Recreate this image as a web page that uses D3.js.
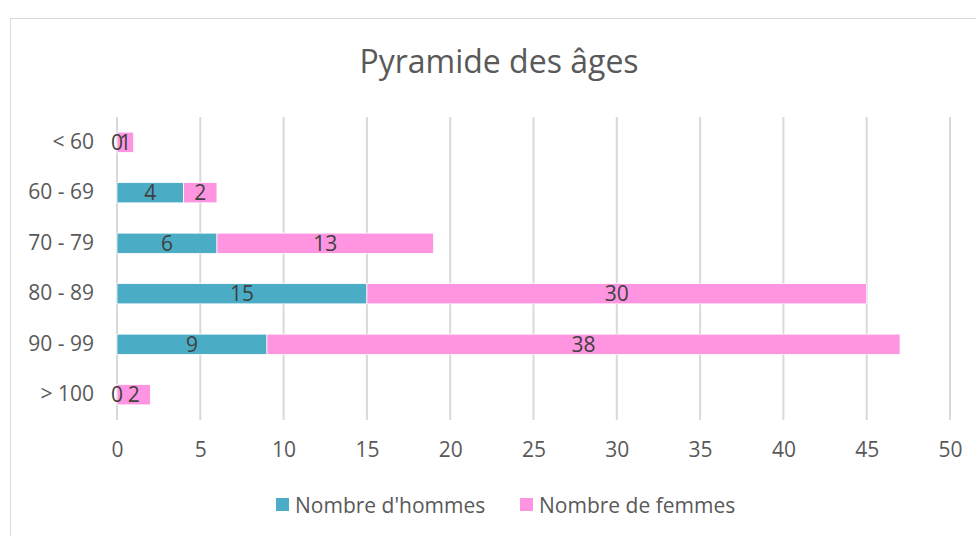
<!DOCTYPE html>
<html>
<head>
<meta charset="utf-8">
<script src="https://cdn.jsdelivr.net/npm/d3@7"></script>
<style>
  body { margin: 0; background: #fff; }
  svg { display: block; font-family: "Open Sans", sans-serif; }
</style>
</head>
<body>
<div id="chart"></div>
<script>
// data
const categories = ["< 60", "60 - 69", "70 - 79", "80 - 89", "90 - 99", "> 100"];
const hommes = [0, 4, 6, 15, 9, 0];
const femmes = [1, 2, 13, 30, 38, 2];
const seriesNames = ["Nombre d'hommes", "Nombre de femmes"];
const xTicks = [0, 5, 10, 15, 20, 25, 30, 35, 40, 45, 50];

const width = 976;
const height = 536;
const margin = { top: 117, right: 26, bottom: 116, left: 117 };
const colors = ["#4BACC6", "#FF95E0"];
const font = "'Open Sans', sans-serif";

const svg = d3.select("#chart")
  .append("svg")
  .attr("width", width)
  .attr("height", height);

// chart frame
svg.append("rect")
  .attr("x", 10.5)
  .attr("y", 18.5)
  .attr("width", width)
  .attr("height", height)
  .attr("fill", "#fff")
  .attr("stroke", "#d9d9d9");

// title
svg.append("text")
  .attr("x", 499)
  .attr("y", 73)
  .attr("text-anchor", "middle")
  .attr("fill", "#595959")
  .style("font-size", "32px")
  .text("Pyramide des âges");

// scales
const x = d3.scaleLinear()
  .domain([0, 50])
  .range([margin.left, width - margin.right]);

const y = d3.scaleBand()
  .domain(categories)
  .range([margin.top, height - margin.bottom])
  .paddingInner(0.6)
  .paddingOuter(0.3);

// gridlines
svg.append("g")
  .selectAll("line")
  .data(xTicks)
  .join("line")
  .attr("x1", d => x(d))
  .attr("x2", d => x(d))
  .attr("y1", margin.top)
  .attr("y2", height - margin.bottom)
  .attr("stroke", "#d9d9d9")
  .attr("stroke-width", 2);

// x axis labels
const xAxis = d3.axisBottom(x).tickValues(xTicks).tickSize(0).tickPadding(0);
const gx = svg.append("g")
  .attr("transform", `translate(0, ${height - margin.bottom + 22})`)
  .call(xAxis);
gx.select(".domain").remove();
gx.selectAll("text")
  .attr("fill", "#595959")
  .style("font-size", "21px")
  .style("font-family", font);

// y axis labels
const yAxis = d3.axisLeft(y).tickSize(0).tickPadding(0);
const gy = svg.append("g")
  .attr("transform", `translate(${margin.left - 23}, 0)`)
  .call(yAxis);
gy.select(".domain").remove();
gy.selectAll("text")
  .attr("fill", "#595959")
  .style("font-size", "21px")
  .style("font-family", font);

// stacked bars
const rows = categories.map((c, i) => ({ cat: c, hommes: hommes[i], femmes: femmes[i] }));
const stack = d3.stack().keys(["hommes", "femmes"])(rows);

const layers = svg.append("g")
  .selectAll("g")
  .data(stack)
  .join("g")
  .attr("fill", (d, i) => colors[i]);

layers.selectAll("rect")
  .data(d => d)
  .join("rect")
  .attr("x", d => x(d[0]))
  .attr("y", d => y(d.data.cat))
  .attr("width", d => x(d[1]) - x(d[0]))
  .attr("height", y.bandwidth())
  .attr("stroke", "#fff")
  .attr("stroke-width", 0.75);

// data labels (drawn on top of all bars)
const labels = stack.flatMap(s => s.map(v => ({ v, key: s.key })));
svg.append("g")
  .selectAll("text")
  .data(labels)
  .join("text")
  .attr("x", d => (x(d.v[0]) + x(d.v[1])) / 2)
  .attr("y", d => y(d.v.data.cat) + y.bandwidth() / 2)
  .attr("dy", "0.36em")
  .attr("text-anchor", "middle")
  .attr("fill", "#404040")
  .style("font-size", "21px")
  .text(d => d.v.data[d.key]);

// legend
const legendX = [276, 520];
const legend = svg.append("g")
  .selectAll("g")
  .data(seriesNames)
  .join("g")
  .attr("transform", (d, i) => `translate(${legendX[i]}, 498)`);

legend.append("rect")
  .attr("width", 13)
  .attr("height", 13)
  .attr("fill", (d, i) => colors[i]);

legend.append("text")
  .attr("x", 19)
  .attr("y", 7)
  .attr("dy", "0.36em")
  .attr("fill", "#595959")
  .style("font-size", "21px")
  .text(d => d);
</script>
</body>
</html>
